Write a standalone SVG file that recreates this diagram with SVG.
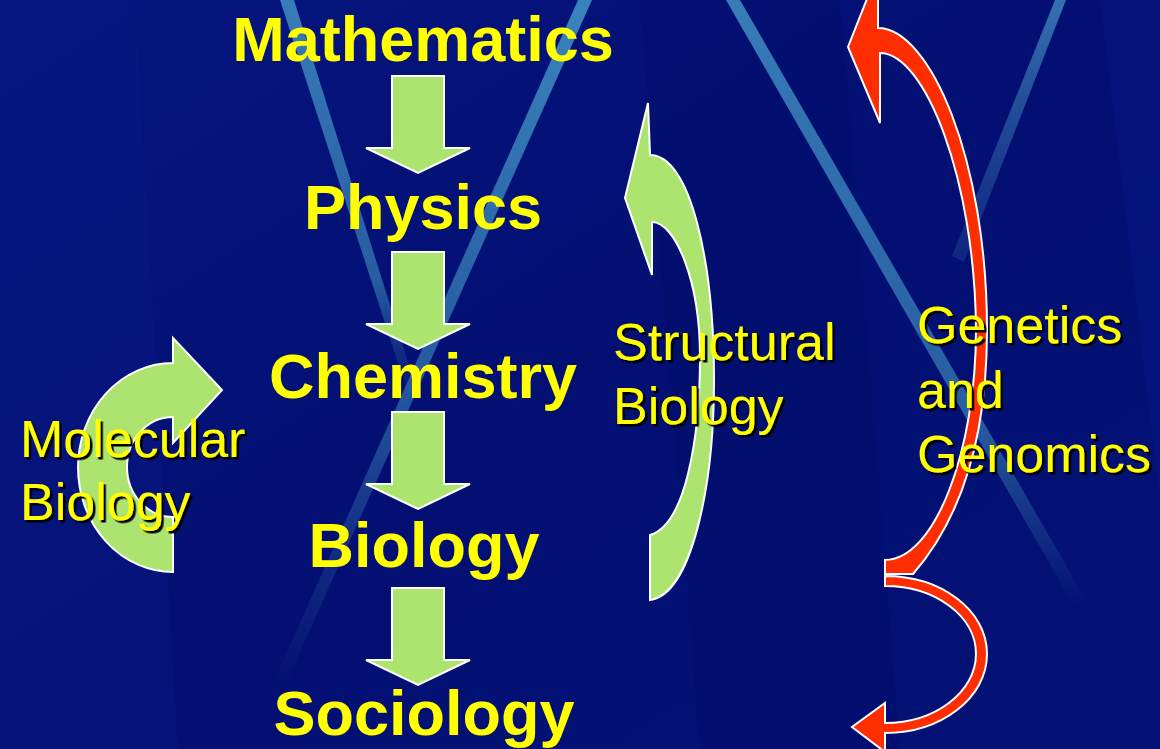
<svg xmlns="http://www.w3.org/2000/svg" xmlns:xlink="http://www.w3.org/1999/xlink" width="1160" height="749" viewBox="0 0 1160 749">
<style>
.big{font-family:"Liberation Sans",Arial,sans-serif;font-weight:bold;font-size:63px;fill:#ffff00;text-anchor:middle}
.lbl{font-family:"Liberation Sans",Arial,sans-serif;font-size:52px;fill:#ffff00;filter:url(#shadow)}
.green{fill:#ade46f;stroke:#ffffff;stroke-width:2;stroke-linejoin:miter}
.red{fill:#ff2e00;stroke:#ffffff;stroke-width:2;stroke-linejoin:miter}
</style>
<defs>
<filter id="shadow" x="-5%" y="-20%" width="115%" height="150%">
<feDropShadow dx="2.5" dy="2.5" stdDeviation="0.3" flood-color="#000000" flood-opacity="1"/>
</filter>
<linearGradient id="bg" x1="0" y1="0" x2="1" y2="1">
<stop offset="0" stop-color="#061580"/>
<stop offset="0.5" stop-color="#030f72"/>
<stop offset="1" stop-color="#041276"/>
</linearGradient>
<linearGradient id="s1" x1="0" y1="0" x2="0" y2="1">
<stop offset="0" stop-color="#3a82bb" stop-opacity="0.95"/>
<stop offset="0.7" stop-color="#3070ac" stop-opacity="0.8"/>
<stop offset="1" stop-color="#2a60a0" stop-opacity="0"/>
</linearGradient>
<linearGradient id="s2" x1="0" y1="0" x2="0" y2="1">
<stop offset="0" stop-color="#3a84bd" stop-opacity="1"/>
<stop offset="0.55" stop-color="#2e6cab" stop-opacity="0.8"/>
<stop offset="1" stop-color="#2a5a9c" stop-opacity="0"/>
</linearGradient>
<linearGradient id="s4" x1="0" y1="0" x2="0" y2="1">
<stop offset="0" stop-color="#3a7cb8" stop-opacity="0.9"/>
<stop offset="1" stop-color="#2a5aa0" stop-opacity="0.3"/>
</linearGradient>
<path id="down" d="M-26,0 H26 V72 H52 L0,97 L-52,72 H-26 Z"/>
</defs>

<g id="background">
<rect x="0" y="0" width="1160" height="749" fill="url(#bg)"/>
<polygon points="0,0 135,0 178,749 0,749" fill="#0a1a8a" opacity="0.25"/>
<polygon points="640,0 840,0 900,749 700,749" fill="#000a60" opacity="0.18"/>
<polygon points="1100,0 1160,0 1160,500" fill="#0a1a8a" opacity="0.35"/>
<polygon points="280,0 294,0 420,400 410,400" fill="url(#s1)"/>
<polygon points="578,0 592,0 283,690 270,690" fill="url(#s2)"/>
<polygon points="726,0 740,0 1086,600 1074,606" fill="url(#s1)"/>
<polygon points="1055,0 1066,0 964,262 952,256" fill="url(#s4)"/>
</g>

<g id="connectors">
<use xlink:href="#down" href="#down" class="green" transform="translate(418,76)"/>
<use xlink:href="#down" href="#down" class="green" transform="translate(418,252)"/>
<use xlink:href="#down" href="#down" class="green" transform="translate(418,412)"/>
<use xlink:href="#down" href="#down" class="green" transform="translate(418,588)"/>
<path id="molecular-arrow" class="green" d="M173,338 L222,390 L173,443 L173,417 A46,50 0 0 0 173,517 L173,572 A95,104.5 0 0 1 173,363 Z"/>
<path id="structural-arrow" class="green" d="M648,103 L625,198 L652,275 L652,222 C675,222 700,280 700,357 C700,440 685,525 650,535 L650,600 C692,594 714,485 714,380 C714,260 690,155 650,155 Z"/>
<path id="genetics-arrow-up" class="red" d="M878,-29 L848,47 L880,123 L880,53 C925,53 975,180 976,330 C976,450 935,560 885,560 L885,574 L913,574 C960,520 987,440 987,330 C987,160 930,28 878,28 Z"/>
<path id="genetics-arrow-down" class="red" d="M885,576 C941,576 987,610 987,654 C987,698 941,733 885,733 L885,752 L852,727 L885,703 L885,723 C935,723 976,692 976,654 C976,616 935,586 885,586 Z"/>
</g>

<g id="node-mathematics"><text class="big" x="423" y="61">Mathematics</text></g>
<g id="node-physics"><text class="big" x="423" y="229">Physics</text></g>
<g id="node-chemistry"><text class="big" x="423" y="398">Chemistry</text></g>
<g id="node-biology"><text class="big" x="424" y="567">Biology</text></g>
<g id="node-sociology"><text class="big" x="424" y="735">Sociology</text></g>

<g id="label-molecular">
<text class="lbl" x="20" y="457">Molecular</text>
<text class="lbl" x="20" y="520">Biology</text>
</g>
<g id="label-structural">
<text class="lbl" x="613" y="360">Structural</text>
<text class="lbl" x="613" y="424">Biology</text>
</g>
<g id="label-genetics">
<text class="lbl" x="917" y="343">Genetics</text>
<text class="lbl" x="917" y="408">and</text>
<text class="lbl" x="917" y="472">Genomics</text>
</g>
</svg>
